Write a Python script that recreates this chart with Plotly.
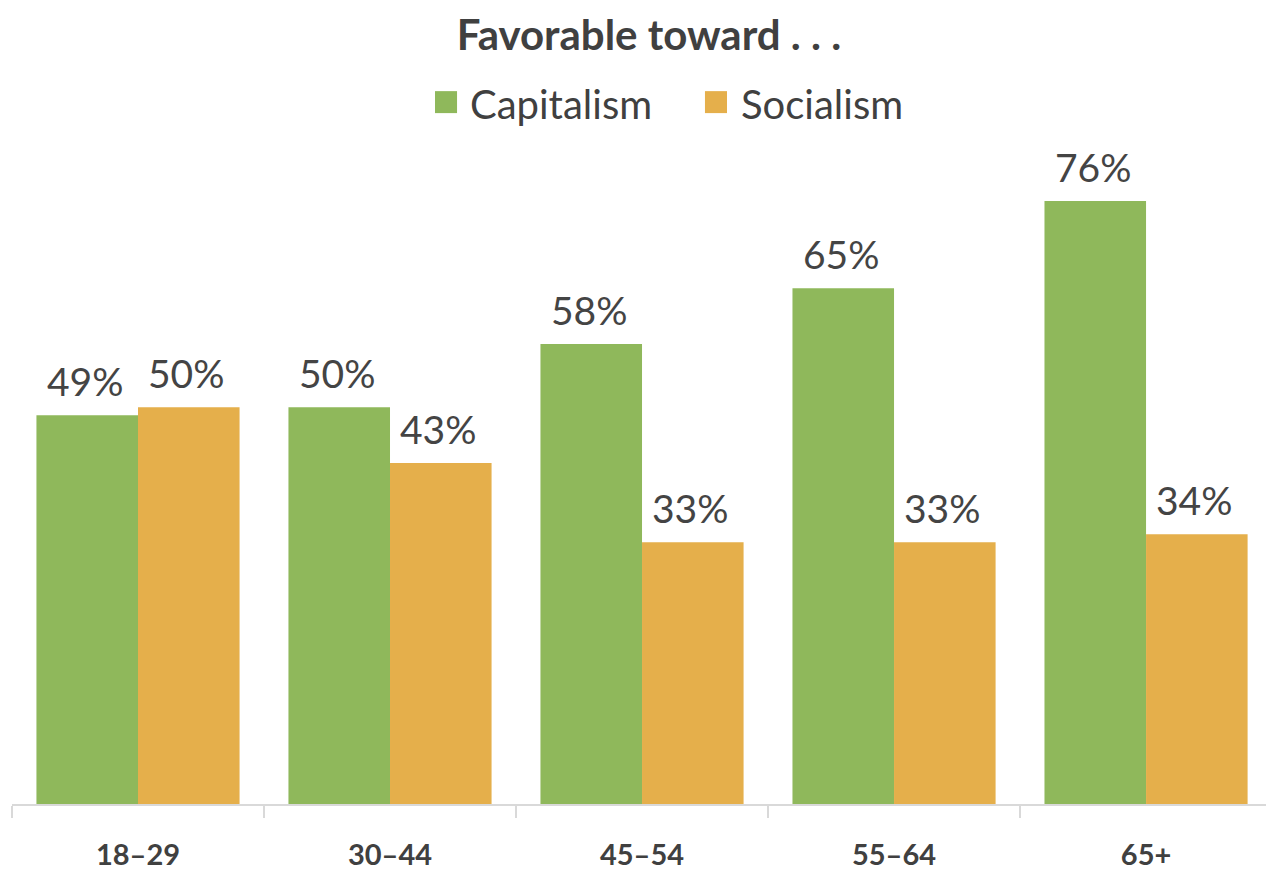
import plotly.graph_objects as go

categories = ["18–29", "30–44", "45–54", "55–64", "65+"]
capitalism = [49, 50, 58, 65, 76]
socialism = [50, 43, 33, 33, 34]
series_names = ["Capitalism", "Socialism"]
colors = ["#8FB85B", "#E5AF4B"]

BARGAP = 0.194
half = (1 - BARGAP) / 4  # offset of each bar centre from the category centre

fig = go.Figure()
annotations = []
for k, (name, vals, col) in enumerate(zip(series_names, [capitalism, socialism], colors)):
    fig.add_trace(go.Bar(
        x=categories, y=vals, name=name, marker_color=col, marker_line_width=0,
        showlegend=False,
    ))
    off = -half if k == 0 else half
    for i, v in enumerate(vals):
        annotations.append(dict(
            x=i + off, y=v, xref="x", yref="y", text=f"{v}%", showarrow=False,
            xanchor="center", yanchor="bottom", yshift=9, xshift=-2,
            font=dict(family="Lato", size=39, color="#444444"),
        ))

# legend drawn as swatches + labels
legend_items = [(series_names[0], colors[0], 0.3373, 0.3636),
                (series_names[1], colors[1], 0.5526, 0.5800)]
shapes = []
for name, col, sx, tx in legend_items:
    shapes.append(dict(type="rect", xref="paper", yref="paper", x0=sx, x1=sx + 0.0176,
                       y0=1.0405, y1=1.0736, fillcolor=col, line_width=0))
    annotations.append(dict(x=tx, y=1.054, xref="paper", yref="paper", text=name,
                            showarrow=False, xanchor="left", yanchor="middle",
                            font=dict(family="Lato", size=40, color="#404040")))

fig.update_layout(
    width=1266, height=871,
    margin=dict(l=12, r=0, t=140, b=65),
    barmode="group", bargap=BARGAP, bargroupgap=0,
    plot_bgcolor="white", paper_bgcolor="white",
    font=dict(family="Lato", color="#404040"),
    title=dict(text="<b>Favorable toward . . .</b>", x=0.5126, xanchor="center",
               y=0.96, yanchor="middle", font=dict(family="Lato", size=42, color="#404040")),
    xaxis=dict(range=[-0.5, 4.476], showline=True, linecolor="#D9D9D9", linewidth=1.5,
               ticks="outside", tickson="boundaries", ticklen=12, tickcolor="#D9D9D9",
               tickwidth=1.5, ticklabelstandoff=24,
               tickfont=dict(family="Lato", size=29, color="#404040", weight="bold")),
    yaxis=dict(range=[0, 83.7], visible=False, showgrid=False),
    showlegend=False,
    annotations=annotations,
    shapes=shapes,
)

fig.write_html("out.html")
